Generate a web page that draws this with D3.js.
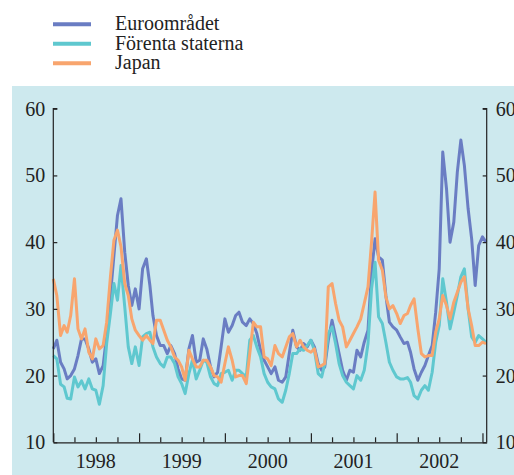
<!DOCTYPE html>
<html>
  <head>
    <meta charset="utf-8">
    <script src="https://cdnjs.cloudflare.com/ajax/libs/d3/7.8.5/d3.min.js"></script>
    <style>
      body { margin: 0; background: #fff; }
    </style>
  </head>
  <body>
    <div id="vis"></div>
    <script type="text/javascript">

        // semi-monthly observations, 1 and 16 of each month, Jan 1998 - Jan 2003
        const dates = d3.range(122).map(k =>
            new Date(1998 + Math.floor(k / 24), Math.floor(k / 2) % 12, k % 2 ? 16 : 1));

        const euro = [
            24.0, 25.3, 22.0, 21.0, 19.5, 20.0, 21.0, 23.0, 25.5, 25.5, 24.0, 22.0,
            22.5, 20.3, 21.5, 26.0, 32.0, 38.0, 44.0, 46.5, 38.5, 33.5, 30.5, 33.0,
            30.0, 36.0, 37.5, 33.5, 29.0, 26.0, 24.5, 24.5, 23.3, 24.5, 23.3, 21.0,
            19.5, 19.3, 24.0, 26.0, 22.0, 22.3, 25.5, 24.0, 21.3, 19.8, 20.5, 24.3,
            28.5, 26.5, 27.5, 29.0, 29.5, 28.0, 27.5, 28.5, 27.8, 26.3, 23.8, 22.3,
            21.3, 20.3, 21.3, 19.3, 19.0, 19.8, 23.3, 26.8, 24.3, 23.8, 24.8, 24.3,
            25.3, 24.3, 21.8, 20.8, 21.3, 25.3, 28.3, 25.8, 23.3, 20.8, 19.3, 20.8,
            20.5, 23.8, 22.8, 25.0, 26.8, 35.5, 40.5, 37.8, 37.3, 32.0, 28.0, 27.3,
            26.8, 25.8, 24.8, 25.0, 23.5, 21.0, 19.3, 20.5, 21.5, 23.0, 24.5, 29.5,
            36.0, 53.5, 48.0, 40.0, 43.0, 50.5, 55.3, 51.5, 45.0, 40.5, 33.5, 39.5,
            40.8, 40.0
        ];

        const usa = [
            23.0, 22.5, 18.7, 18.3, 16.6, 16.5, 19.8, 18.3, 19.2, 18.0, 19.5, 18.0,
            17.8, 15.7, 18.5, 24.8, 29.3, 33.8, 31.3, 36.5, 30.3, 24.3, 21.8, 24.3,
            21.5, 25.8, 26.3, 26.5, 24.3, 22.8, 21.8, 21.3, 22.8, 22.8, 21.8, 19.8,
            18.8, 17.3, 20.3, 22.3, 19.5, 20.8, 22.3, 22.0, 19.8, 18.8, 18.5, 20.3,
            20.5, 20.8, 19.3, 20.8, 20.8, 20.3, 19.8, 25.3, 26.0, 24.3, 22.8, 20.3,
            19.0, 18.3, 18.0, 16.5, 16.0, 17.8, 20.3, 23.3, 23.3, 24.0, 23.8, 24.5,
            25.3, 23.8, 20.3, 19.8, 21.8, 26.3, 27.3, 24.8, 21.8, 20.0, 19.0, 18.5,
            18.0, 20.0, 19.3, 20.8, 24.8, 33.0, 37.0, 28.8, 27.8, 25.0, 22.0, 20.8,
            19.8, 19.5, 19.5, 19.7, 19.0, 17.0, 16.5, 17.8, 18.5, 17.8, 20.5, 25.0,
            27.5, 34.5, 31.0, 27.0, 29.5, 32.0, 34.8, 36.0, 30.0, 25.8, 25.0, 26.0,
            25.5, 25.0
        ];

        const japan = [
            34.5, 32.0, 26.0, 27.5, 26.5, 29.0, 34.5, 27.0, 25.5, 27.0, 23.5, 22.5,
            25.5, 24.0, 24.5, 28.0, 34.8, 40.3, 41.8, 39.3, 33.8, 32.0, 28.5, 26.8,
            26.0, 25.3, 26.0, 25.3, 24.8, 28.3, 28.3, 26.8, 25.3, 24.3, 22.8, 22.3,
            21.3, 19.3, 23.8, 22.5, 21.3, 21.3, 22.3, 22.3, 21.3, 20.0, 19.8, 19.0,
            21.8, 24.3, 22.3, 19.8, 20.0, 20.0, 18.8, 23.3, 28.0, 27.3, 27.3, 22.8,
            22.5, 21.5, 24.5, 23.3, 22.8, 24.3, 25.8, 26.3, 24.3, 25.3, 24.3, 23.8,
            23.5, 24.0, 21.3, 21.5, 21.8, 33.3, 33.8, 30.8, 28.3, 27.3, 24.3, 25.3,
            26.3, 27.3, 28.5, 30.8, 33.3, 40.0, 47.5, 37.3, 35.8, 31.8, 30.0, 30.5,
            29.3, 27.8, 29.0, 29.3, 30.5, 31.5, 27.0, 23.3, 22.8, 23.0, 23.0, 26.5,
            28.5, 32.0, 30.5, 28.5, 31.0, 32.5, 34.0, 34.8, 30.0, 27.5, 24.5, 24.5,
            25.0, 24.8
        ];

        const seriesNames = ["Euroområdet", "Förenta staterna", "Japan"];
        const seriesColors = ["#6a7dc3", "#5fc8cf", "#f8a56e"];
        const yTicks = [10, 20, 30, 40, 50, 60];
        const yearLabels = [1998, 1999, 2000, 2001, 2002];

        const W = 514, H = 475;
        const plotLeft = 53.3, plotRight = 486.7, plotTop = 108.7, plotBottom = 442.3;
        const serif = "'Liberation Serif', 'DejaVu Serif', serif";

        const svg = d3.select("#vis")
            .append("svg")
            .attr("width", W)
            .attr("height", H)
            .style("font-family", serif);

        svg.append("rect")
            .attr("x", 12).attr("y", 86)
            .attr("width", W - 12).attr("height", H - 86)
            .attr("fill", "#cde9ee");

        const x = d3.scaleTime()
            .domain([new Date(1998, 0, 1), new Date(2003, 0, 19)])
            .range([plotLeft, plotRight]);
        const y = d3.scaleLinear().domain([10, 60]).range([plotBottom, plotTop]);

        // lines
        const line = d3.line()
            .x((d, i) => x(dates[i]))
            .y(d => y(d));

        [euro, usa, japan].forEach((s, i) => {
            svg.append("path")
                .datum(s)
                .attr("d", line)
                .attr("fill", "none")
                .attr("stroke", seriesColors[i])
                .attr("stroke-width", 3)
                .attr("stroke-linejoin", "round");
        });

        // y axes, ticks pointing inward
        const yLeft = svg.append("g")
            .attr("transform", `translate(${plotLeft},0)`)
            .call(d3.axisRight(y).tickValues(yTicks).tickSize(4).tickFormat(""));
        const yRight = svg.append("g")
            .attr("transform", `translate(${plotRight},0)`)
            .call(d3.axisLeft(y).tickValues(yTicks).tickSize(4).tickFormat(""));

        const labelStyle = sel => sel
            .style("font-family", serif)
            .attr("fill", "#222");

        svg.selectAll(".yl")
            .data(yTicks)
            .enter()
            .append("text")
            .attr("x", plotLeft - 8)
            .attr("y", d => y(d) + 7)
            .attr("text-anchor", "end")
            .attr("font-size", 20)
            .call(labelStyle)
            .text(d => d);
        svg.selectAll(".yr")
            .data(yTicks)
            .enter()
            .append("text")
            .attr("x", plotRight + 9)
            .attr("y", d => y(d) + 7)
            .attr("font-size", 20)
            .call(labelStyle)
            .text(d => d);

        // x axis: quarter ticks, taller at year start
        const quarters = d3.timeMonth.every(3).range(new Date(1998, 0, 1), new Date(2003, 0, 2));
        const xAxis = svg.append("g")
            .attr("transform", `translate(0,${plotBottom})`)
            .call(d3.axisTop(x).tickValues(quarters).tickSize(5).tickFormat("").tickSizeOuter(0));
        xAxis.selectAll(".tick line")
            .attr("y2", d => d.getMonth() === 0 ? -9 : -5);

        [yLeft, yRight, xAxis].forEach(g => {
            g.select(".domain").attr("stroke", "#222").attr("stroke-width", 1.2);
            g.selectAll(".tick line").attr("stroke", "#222").attr("stroke-width", 1.2);
        });
        yLeft.select(".domain").attr("d", `M4,${plotTop}H0V${plotBottom}`);
        yRight.select(".domain").attr("d", `M-4,${plotTop}H0V${plotBottom}`);

        svg.selectAll(".xl")
            .data(yearLabels)
            .enter()
            .append("text")
            .attr("x", d => x(new Date(d, 6, 1)))
            .attr("y", 468)
            .attr("text-anchor", "middle")
            .attr("font-size", 20)
            .call(labelStyle)
            .text(d => d);

        // legend
        const legend = svg.selectAll(".legend")
            .data(seriesNames)
            .enter()
            .append("g")
            .attr("transform", (d, i) => `translate(0,${24.3 + i * 19.5})`);
        legend.append("line")
            .attr("x1", 53).attr("x2", 91)
            .attr("stroke", (d, i) => seriesColors[i])
            .attr("stroke-width", 4);
        legend.append("text")
            .attr("x", 115)
            .attr("y", 6)
            .attr("font-size", 20)
            .call(labelStyle)
            .text(d => d);

    </script>
  </body>
</html>
